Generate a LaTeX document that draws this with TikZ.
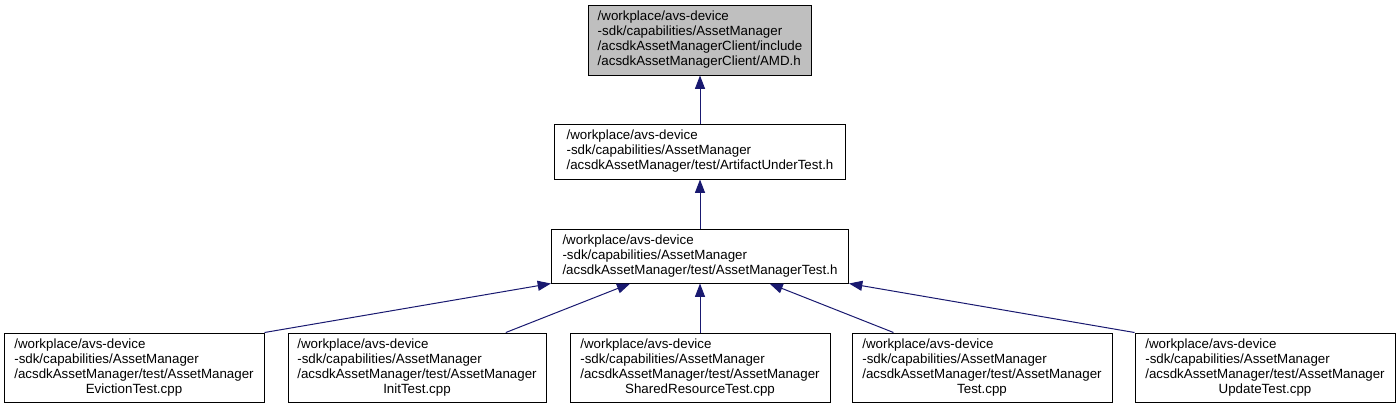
\documentclass[tikz,border=0pt]{standalone}
\usepackage{fontspec}
\setmainfont{Liberation Sans}
\usepackage{xcolor}
\usetikzlibrary{arrows.meta, positioning, calc}

\definecolor{edgeblue}{HTML}{191970}
\definecolor{filegray}{HTML}{BFBFBF}

% label of a test source: three path lines, the file name centred below
\newcommand{\testfile}[1]{\begin{tabular}{@{}l@{}}/workplace/avs-device\\-sdk/capabilities/AssetManager\\/acsdkAssetManager/test/AssetManager\\\multicolumn{1}{@{}c@{}}{#1}\end{tabular}}

\begin{document}
\begin{tikzpicture}[x=0.75pt, y=-0.75pt,
    file/.style={draw=black, line width=0.75pt, inner sep=0pt,
      font=\fontsize{10}{11.25}\selectfont},
    testbox/.style={file, minimum width=195pt, minimum height=51.75pt},
    edge/.style={draw=edgeblue, line width=0.75pt,
      -{Triangle[length=10pt, width=7.5pt]}, edgeblue}]
    \useasboundingbox (0,0) rectangle (1400,408);
    \begin{scope}
    % header and its includers
    \node[file, fill=filegray, minimum width=167.25pt, minimum height=52.5pt] (amd) at (700,40)
      {\begin{tabular}{@{}l@{}}/workplace/avs-device\\-sdk/capabilities/AssetManager\\/acsdkAssetManagerClient/include\\/acsdkAssetManagerClient/AMD.h\end{tabular}};
    \node[file, minimum width=218.25pt, minimum height=41.25pt] (artifact) at (700,151.5)
      {\begin{tabular}{@{}l@{}}/workplace/avs-device\\-sdk/capabilities/AssetManager\\/acsdkAssetManager/test/ArtifactUnderTest.h\end{tabular}};
    \node[file, minimum width=222.75pt, minimum height=40.5pt] (amtest) at (700,256)
      {\begin{tabular}{@{}l@{}}/workplace/avs-device\\-sdk/capabilities/AssetManager\\/acsdkAssetManager/test/AssetManagerTest.h\end{tabular}};
    % test sources
    \node[testbox] (eviction) at (134,367.5) {\testfile{EvictionTest.cpp}};
    \node[testbox, minimum width=193.5pt] (init) at (417,367.5) {\testfile{InitTest.cpp}};
    \node[testbox] (shared) at (700,367.5) {\testfile{SharedResourceTest.cpp}};
    \node[testbox] (plain) at (982,367.5) {\testfile{Test.cpp}};
    \node[testbox] (update) at (1265,367.5) {\testfile{UpdateTest.cpp}};
    % include edges
    \draw[edge] (artifact) -- (amd);
    \draw[edge] (amtest) -- (artifact);
    \draw[edge] (eviction.north east) -- (amtest.south west);
    \draw[edge] (init) -- (amtest);
    \draw[edge] (shared) -- (amtest);
    \draw[edge] (plain) -- (amtest);
    \draw[edge] (update.north west) -- (amtest.south east);
    \end{scope}
\end{tikzpicture}
\end{document}
